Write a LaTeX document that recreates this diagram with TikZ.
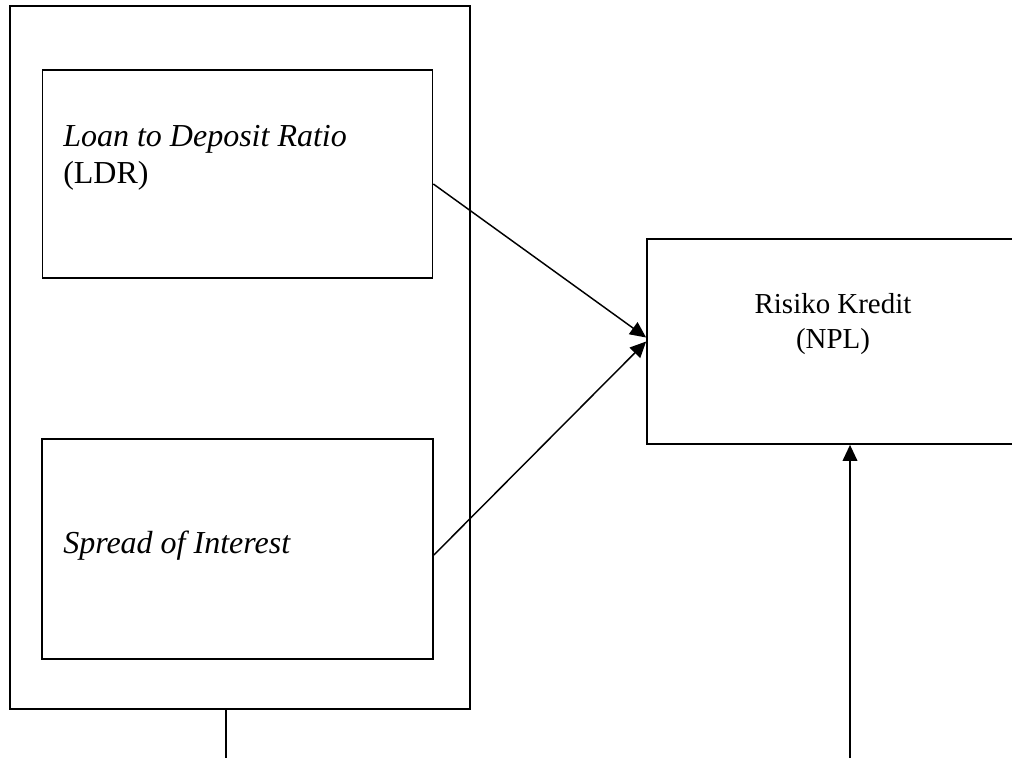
\documentclass[tikz,border=0pt]{standalone}
\usepackage{fontspec}
\setmainfont{Liberation Serif}
\usetikzlibrary{arrows.meta, positioning}

\tikzset{
  box/.style={draw, line width=1.3pt, inner sep=0pt},
  lbl/.style={inner sep=0pt, font=\fontsize{24}{28}\selectfont},
  lblsmall/.style={inner sep=0pt, font=\fontsize{21.7}{26}\selectfont}
}

\begin{document}
\begin{tikzpicture}[x=0.75pt, y=-0.75pt]
\clip (0,0) rectangle (1012,758);
% boxes
\node[box, minimum width=345pt, minimum height=527.25pt] (outer) at (240,357.5) {};
\node[box, minimum width=292.5pt, minimum height=156pt] (ldr) at (237.5,174) {};
\node[box, minimum width=293.25pt, minimum height=165pt] (spread) at (237.5,549) {};
\node[box, minimum width=304.5pt, minimum height=153.75pt] (npl) at (850,341.5) {};
% texts
\node[lbl, anchor=base west] (ldrtxt) at (63,146) {\textit{Loan to Deposit Ratio}};
\node[lbl, anchor=base west] (ldrabbr) at (63,183) {(LDR)};
\node[lbl, anchor=base west] (spreadtxt) at (63,553) {\textit{Spread of Interest}};
\node[lblsmall, anchor=base] (npltxt) at (833,313) {Risiko Kredit};
\node[lblsmall, anchor=base] (nplabbr) at (833,348) {(NPL)};
\coordinate (outerend) at (226,758);
\coordinate (nplstart) at (850,758);
\begin{scope}[>={Triangle[length=12pt,width=11pt]},
              every edge/.style={draw=black,line width=1.1pt}]
    \path [->] ([yshift=-7.5pt]ldr.east) edge ([yshift=3pt]npl.west);
    \path [->] ([yshift=-4.5pt]spread.east) edge (npl.west);
    \path [->] (nplstart) edge (npl.south);
    \path [-] ([xshift=-10.5pt]outer.south) edge (outerend);
\end{scope}
\end{tikzpicture}
\end{document}
